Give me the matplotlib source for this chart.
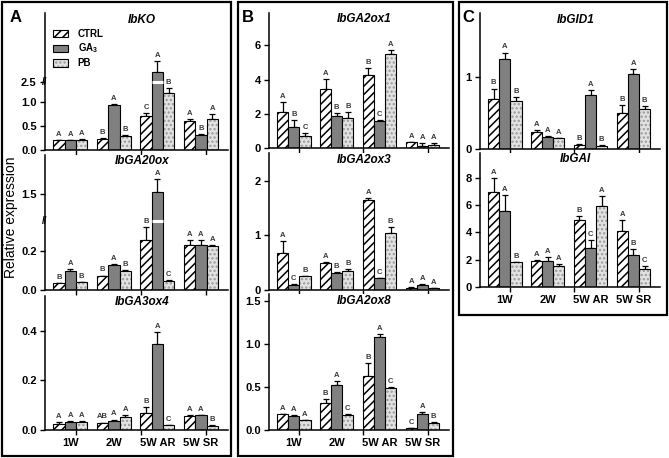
import numpy as np
import matplotlib
matplotlib.use('Agg')
import matplotlib.pyplot as plt
from matplotlib.patches import Patch, Rectangle
from matplotlib.transforms import blended_transform_factory

plt.rcParams['font.family'] = ['Liberation Sans', 'DejaVu Sans']
plt.rcParams['mathtext.fontset'] = 'custom'
plt.rcParams['mathtext.rm'] = 'Liberation Sans:bold'
plt.rcParams['mathtext.default'] = 'rm'
plt.rcParams['hatch.linewidth'] = 1.1

groups = ['1W', '2W', '5W AR', '5W SR']
treatments = ['CTRL', 'GA$_3$', 'PB']

# values per treatment: CTRL, GA3, PB ; one entry per group
ko_mean = [[0.20, 0.235, 0.715, 0.60], [0.20, 0.94, 2.93, 0.31], [0.20, 0.29, 1.19, 0.64]]
ko_err = [[0.01, 0.02, 0.05, 0.05], [0.01, 0.01, 0.46, 0.02], [0.02, 0.02, 0.10, 0.11]]
ko_sig = [['A', 'B', 'C', 'A'], ['A', 'A', 'A', 'B'], ['A', 'B', 'B', 'A']]

ga20_mean = [[0.033, 0.072, 0.26, 0.234], [0.10, 0.131, 1.52, 0.234], [0.04, 0.097, 0.047, 0.229]]
ga20_err = [[0.002, 0.002, 0.066, 0.028], [0.007, 0.005, 0.145, 0.026], [0.002, 0.007, 0.002, 0.005]]
ga20_sig = [['B', 'B', 'B', 'A'], ['A', 'A', 'A', 'A'], ['B', 'B', 'C', 'A']]

ga3_mean = [[0.023, 0.026, 0.067, 0.056], [0.031, 0.036, 0.345, 0.060], [0.031, 0.050, 0.017, 0.016]]
ga3_err = [[0.008, 0.003, 0.023, 0.003], [0.003, 0.005, 0.048, 0.0], [0.003, 0.011, 0.002, 0.002]]
ga3_sig = [['A', 'AB', 'B', 'A'], ['A', 'A', 'A', 'A'], ['A', 'A', 'C', 'B']]

ox1_mean = [[2.10, 3.48, 4.29, 0.35], [1.27, 1.88, 1.60, 0.13], [0.73, 1.79, 5.48, 0.19]]
ox1_err = [[0.58, 0.54, 0.38, 0.04], [0.40, 0.19, 0.03, 0.15], [0.17, 0.35, 0.27, 0.10]]
ox1_sig = [['A', 'A', 'B', 'A'], ['B', 'B', 'C', 'A'], ['C', 'B', 'A', 'A']]

ox3_mean = [[0.675, 0.497, 1.65, 0.04], [0.09, 0.31, 0.21, 0.09], [0.245, 0.337, 1.04, 0.025]]
ox3_err = [[0.22, 0.01, 0.04, 0.01], [0.013, 0.02, 0.005, 0.02], [0.005, 0.04, 0.11, 0.005]]
ox3_sig = [['A', 'A', 'A', 'A'], ['C', 'B', 'C', 'A'], ['B', 'B', 'B', 'A']]

ox8_mean = [[0.179, 0.311, 0.623, 0.02], [0.156, 0.525, 1.08, 0.179], [0.109, 0.171, 0.482, 0.08]]
ox8_err = [[0.008, 0.043, 0.156, 0.004], [0.02, 0.047, 0.035, 0.03], [0.008, 0.008, 0.012, 0.01]]
ox8_sig = [['A', 'B', 'B', 'C'], ['A', 'A', 'A', 'A'], ['A', 'C', 'C', 'B']]

gid_mean = [[0.70, 0.23, 0.056, 0.495], [1.25, 0.167, 0.745, 1.046], [0.667, 0.148, 0.046, 0.56]]
gid_err = [[0.14, 0.03, 0.014, 0.11], [0.09, 0.01, 0.08, 0.06], [0.055, 0.01, 0.004, 0.04]]
gid_sig = [['B', 'A', 'B', 'B'], ['A', 'A', 'A', 'A'], ['B', 'A', 'B', 'B']]

gai_mean = [[6.94, 1.88, 4.91, 4.10], [5.58, 1.93, 2.89, 2.37], [1.80, 1.51, 5.95, 1.33]]
gai_err = [[1.06, 0.10, 0.30, 0.79], [1.14, 0.25, 0.52, 0.40], [0.05, 0.15, 0.74, 0.22]]
gai_sig = [['A', 'A', 'B', 'A'], ['A', 'A', 'C', 'B'], ['B', 'A', 'A', 'C']]

W, H = 669, 458
fig = plt.figure(figsize=(W / 100, H / 100), dpi=100)


def px_axes(x0, x1, y0, y1):
    return fig.add_axes([x0 / W, 1 - y1 / H, (x1 - x0) / W, (y1 - y0) / H])


def broken(lo, hi, k):
    # linear up to lo, jump to hi, then compressed with slope k
    xd = [-1.0, lo, hi, 100.0]
    xp = [-1.0, lo, lo + 0.01, lo + 0.01 + (100.0 - hi) * k]
    return (lambda v: np.interp(v, xd, xp), lambda v: np.interp(v, xp, xd))


bw = 0.26
hatch_style = dict(fc='#e2e2e2', ec='#9a9a9a', hatch='....', lw=0)


def draw_gene(ax, title, mean, err, sig, yticks, ylabels, ytop, scale=None,
              brk=None, bottom=False):
    x = np.arange(len(groups))
    if scale is not None:
        ax.set_yscale('function', functions=scale)
    bars = []
    for i in range(3):
        pos = x + (i - 1) * bw
        if i == 0:
            b = ax.bar(pos, mean[i], bw, fc='white', ec='black', hatch='////', lw=0.8, zorder=2)
        elif i == 1:
            b = ax.bar(pos, mean[i], bw, fc='#808080', ec='black', lw=0.8, zorder=2)
        else:
            ax.bar(pos, mean[i], bw, zorder=2, **hatch_style)
            b = ax.bar(pos, mean[i], bw, fill=False, ec='black', lw=0.8, zorder=2)
        bars.append(b)
        ax.errorbar(pos, mean[i], yerr=[np.zeros(4), err[i]], fmt='none',
                    ecolor='black', elinewidth=0.9, capsize=2, capthick=0.9, zorder=1)
        for p, m, e, s in zip(pos, mean[i], err[i], sig[i]):
            ax.annotate(s, (p, m + e), xytext=(0, 1.5), textcoords='offset points',
                        ha='center', va='bottom', fontsize=5.5, fontweight='bold',
                        color='#3a3a3a')
    if brk is not None:
        # white gap through bars that cross the axis break
        for b in bars:
            for r in b.patches:
                if r.get_height() > brk:
                    ax.hlines(brk, r.get_x(), r.get_x() + r.get_width(),
                              color='white', lw=2.2, zorder=3)
        tr = blended_transform_factory(ax.transAxes, ax.transData)
        ax.text(0, brk, '//', transform=tr, ha='center', va='center',
                fontsize=7, fontweight='bold', clip_on=False)
    ax.set_ylim(0, ytop)
    ax.set_xlim(-0.58, 3.62)
    ax.set_yticks(yticks, ylabels, fontweight='bold', fontsize=8)
    ax.set_xticks([0.12, 1.62, 3.12], [])
    if bottom:
        ax.set_xticks(x, groups, minor=True, fontweight='bold', fontsize=8)
    ax.tick_params(axis='both', which='major', direction='out', length=3.5, width=1, pad=2.5)
    ax.tick_params(axis='x', which='minor', length=0, pad=6)
    for s in ['top', 'right']:
        ax.spines[s].set_visible(False)
    for s in ['left', 'bottom']:
        ax.spines[s].set_linewidth(1.1)
    ax.text(0.53, 0.952, title, transform=ax.transAxes, ha='center', va='center',
            fontsize=8.5, fontweight='bold', fontstyle='italic')
    return bars


# panel A
axA1 = px_axes(45, 228, 13, 150)
draw_gene(axA1, 'IbKO', ko_mean, ko_err, ko_sig, [0, 0.5, 1.0, 2.5],
          ['0.0', '0.5', '1.0', '2.5'], 5.39, scale=broken(1.40, 2.5, 0.5), brk=2.5)
axA2 = px_axes(45, 228, 155, 289.7)
draw_gene(axA2, 'IbGA20ox', ga20_mean, ga20_err, ga20_sig, [0, 0.2, 1.5],
          ['0.0', '0.2', '1.5'], 1.93, scale=broken(0.352, 1.2, 0.47), brk=1.2)
axA3 = px_axes(45, 228, 296, 429.7)
draw_gene(axA3, 'IbGA3ox4', ga3_mean, ga3_err, ga3_sig, [0, 0.2, 0.4],
          ['0.0', '0.2', '0.4'], 0.54, bottom=True)

# panel B
axB1 = px_axes(269, 449, 13, 148.3)
draw_gene(axB1, 'IbGA2ox1', ox1_mean, ox1_err, ox1_sig, [0, 2, 4, 6],
          ['0', '2', '4', '6'], 7.89)
axB2 = px_axes(269, 449, 153, 289.7)
draw_gene(axB2, 'IbGA2ox3', ox3_mean, ox3_err, ox3_sig, [0, 1, 2],
          ['0', '1', '2'], 2.515)
axB3 = px_axes(269, 449, 294, 429.7)
draw_gene(axB3, 'IbGA2ox8', ox8_mean, ox8_err, ox8_sig, [0, 0.5, 1.0, 1.5],
          ['0.0', '0.5', '1.0', '1.5'], 1.583, bottom=True)

# panel C
axC1 = px_axes(480, 660, 13, 149)
draw_gene(axC1, 'IbGID1', gid_mean, gid_err, gid_sig, [0, 1], ['0', '1'], 1.889)
axC2 = px_axes(480, 660, 153, 287)
draw_gene(axC2, 'IbGAI', gai_mean, gai_err, gai_sig, [0, 2, 4, 6, 8],
          ['0', '2', '4', '6', '8'], 9.82, bottom=True)

# legend
handles = [Patch(fc='white', ec='black', hatch='////', lw=0.8),
           Patch(fc='#808080', ec='black', lw=0.8),
           (Patch(**hatch_style), Patch(fill=False, ec='black', lw=0.8))]
axA1.legend(handles, treatments, loc='upper left', bbox_to_anchor=(0.044, 0.885),
            frameon=False, prop={'weight': 'bold', 'size': 7}, handlelength=1.55,
            handleheight=0.75, labelspacing=0.3, handletextpad=1.0,
            borderaxespad=0, borderpad=0)

# panel frames and letters
for x0, x1, y0, y1 in [(2, 231, 2, 456), (238, 453, 2, 456), (459, 667, 2, 315)]:
    fig.add_artist(Rectangle((x0 / W, 1 - y1 / H), (x1 - x0) / W, (y1 - y0) / H,
                             transform=fig.transFigure, fill=False, ec='black', lw=1.6))
for letter, xp in [('A', 16), ('B', 248), ('C', 468)]:
    fig.text(xp / W, 1 - 17 / H, letter, ha='center', va='center', fontsize=12,
             fontweight='bold')

fig.text(11.5 / W, 1 - 217 / H, 'Relative expression', rotation=90, ha='center',
         va='center', fontsize=10)

fig.savefig('out.png', dpi=100)
